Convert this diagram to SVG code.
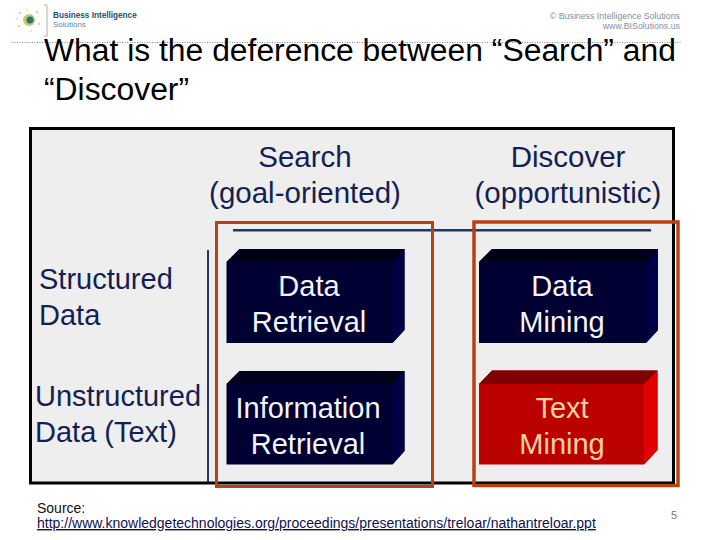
<svg xmlns="http://www.w3.org/2000/svg" width="720" height="540" viewBox="0 0 720 540">
<style>
text{font-family:"Liberation Sans",Arial,sans-serif}
.t{font-size:31.85px;fill:#000}
.h{font-size:29.5px;fill:#141f55;text-anchor:middle}
.l{font-size:29px;fill:#141f55}
.w{font-size:29px;fill:#f4f4f8;text-anchor:middle}
.p{font-size:29px;fill:#ffd0a0;text-anchor:middle}
.s{font-size:14px;fill:#111}
.o{fill:none;stroke:#b9400f;stroke-width:3}
.d{fill:#c2c96a}
</style>
<rect width="720" height="540" fill="#fff"/>
<g id="logo">
<circle cx="29" cy="20" r="6" fill="#c2c96a"/>
<circle cx="30" cy="20" r="3.5" fill="#2f6f78"/>
<circle class="d" cx="20" cy="13" r="1"/><circle class="d" cx="37" cy="12" r="1"/><circle class="d" cx="39" cy="24" r="1"/><circle class="d" cx="19" cy="26" r="1"/><circle class="d" cx="27" cy="10" r="0.8"/><circle class="d" cx="31" cy="31" r="0.8"/><circle class="d" cx="17" cy="19" r="0.8"/>
<path d="M44 5H47V36H44" fill="none" stroke="#a8b0b8" stroke-width="1"/>
<text x="53" y="18" font-size="8.2" font-weight="bold" fill="#1d4f6f">Business Intelligence</text>
<text x="53" y="27" font-size="8" fill="#5a8aa0">Solutions</text>
</g>
<g id="copyright" font-size="8.8" fill="#7f8f9f" text-anchor="end">
<text x="680" y="19">© Business Intelligence Solutions</text>
<text x="680" y="29">www.BISolutions.us</text>
</g>
<line x1="12" y1="42.5" x2="682" y2="42.5" stroke="#888" stroke-dasharray="1 1.5"/>
<g id="title"><text class="t" x="44" y="61">What is the deference between “Search” and</text><text class="t" x="44" y="100">“Discover”</text></g>
<rect id="panel" x="30.5" y="128.5" width="643" height="354.5" fill="#eeeeee" stroke="#000" stroke-width="3"/>
<g id="headers">
<text class="h" x="305" y="167">Search</text><text class="h" x="305" y="203">(goal-oriented)</text>
<text class="h" x="568" y="167">Discover</text><text class="h" x="568" y="203">(opportunistic)</text>
</g>
<g id="row-labels">
<text class="l" x="39" y="289">Structured</text><text class="l" x="39" y="325">Data</text>
<text class="l" x="35" y="406">Unstructured</text><text class="l" x="35" y="442">Data (Text)</text>
</g>
<g id="connectors" stroke="#1f3a5f" fill="none">
<line x1="233" y1="230.3" x2="651" y2="230.3" stroke-width="2.5"/>
<line x1="208" y1="250" x2="208" y2="482" stroke-width="2"/>
</g>
<g id="data-retrieval"><path d="M226.5 262L239.5 249H404.5V330L392.5 343H226.5Z" fill="#000033"/><path d="M226.5 262L239.5 249H404.5L392.5 262Z" fill="#000018"/><path d="M392.5 262L404.5 249V330L392.5 343Z" fill="#000044"/><text class="w" x="309" y="296">Data</text><text class="w" x="309" y="332">Retrieval</text></g>
<g id="data-mining"><path d="M479 262L492 249H658V330L646 343H479Z" fill="#000033"/><path d="M479 262L492 249H658L646 262Z" fill="#000018"/><path d="M646 262L658 249V330L646 343Z" fill="#000044"/><text class="w" x="562" y="296">Data</text><text class="w" x="562" y="332">Mining</text></g>
<g id="information-retrieval"><path d="M226.5 384L239.5 371H404.5V451L392.5 464.5H226.5Z" fill="#000033"/><path d="M226.5 384L239.5 371H404.5L392.5 384Z" fill="#000018"/><path d="M392.5 384L404.5 371V451L392.5 464.5Z" fill="#000044"/><text class="w" x="308" y="418">Information</text><text class="w" x="308" y="454">Retrieval</text></g>
<g id="text-mining"><path d="M479 384L492 370.5H657.5V450L644 464.5H479Z" fill="#bb0000"/><path d="M479 384L492 370.5H657.5L644 384Z" fill="#7f0000"/><path d="M644 384L657.5 370.5V450L644 464.5Z" fill="#e00000"/><text class="p" x="562" y="418">Text</text><text class="p" x="562" y="454">Mining</text></g>
<g id="highlights"><rect class="o" x="216.5" y="222.5" width="216" height="264"/><rect class="o" x="474" y="222" width="204" height="263.5" style="stroke-width:3.5"/></g>
<g id="source"><text class="s" x="37" y="513">Source:</text><text class="s" x="37" y="528" style="fill:#101050" text-decoration="underline">http://www.knowledgetechnologies.org/proceedings/presentations/treloar/nathantreloar.ppt</text></g>
<text id="page" x="674" y="519" font-size="11" fill="#777" text-anchor="middle">5</text>
</svg>
